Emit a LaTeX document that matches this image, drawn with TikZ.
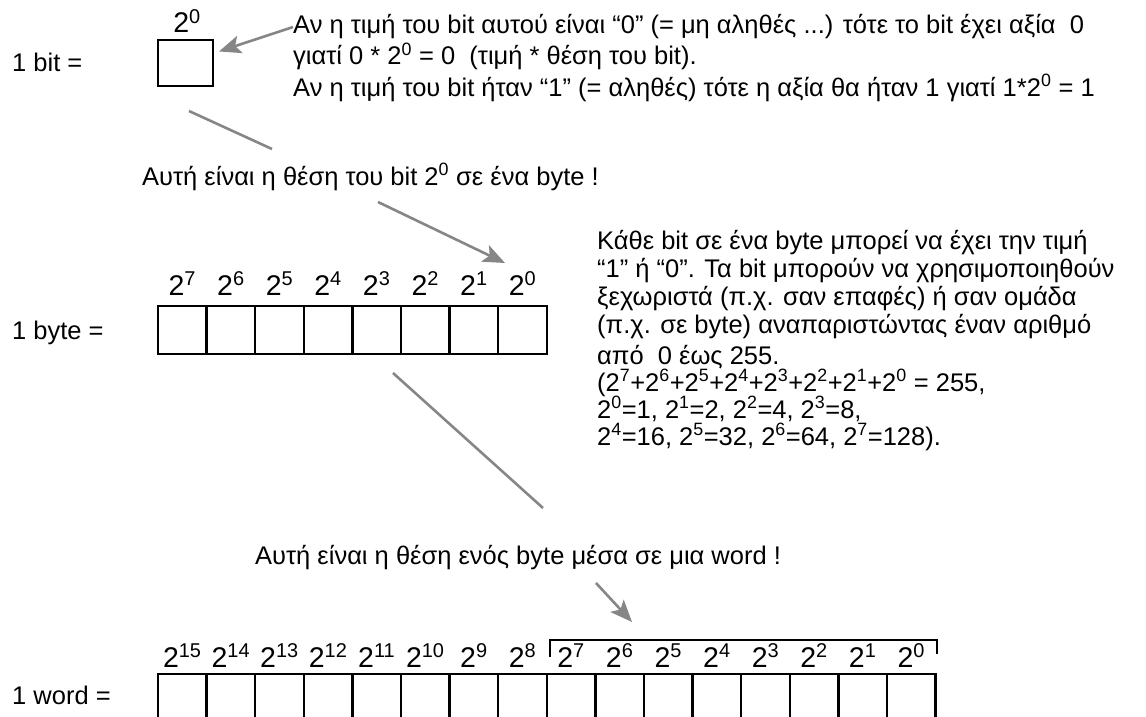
\documentclass[tikz,border=0pt]{standalone}
\usepackage{fontspec}
\setmainfont{Liberation Sans}
\usetikzlibrary{arrows.meta}
\definecolor{ptrgray}{HTML}{868686}
\newcommand{\pw}[1]{2\textsuperscript{#1}}

\begin{document}
\begin{tikzpicture}[x=1pt,y=-1pt,
  every node/.style={anchor=base west,font=\fontsize{25.5}{30}\selectfont,inner sep=0pt},
  cell/.style={anchor=center,draw=black,line width=2.4pt,minimum width=48.6pt,minimum height=48pt},
  expo/.style={anchor=base,font=\fontsize{28.5}{30}\selectfont},
  ptr/.style={draw=ptrgray,line width=2.6pt,-{Stealth[length=22pt,width=18pt,inset=5pt]}},
  ptrline/.style={draw=ptrgray,line width=2.6pt},
  bracketline/.style={draw=black,line width=2.2pt}]
\useasboundingbox (0,0) rectangle (1146,717);
\clip (0,0) rectangle (1146,717);
\node (bitlbl) at (12,72) {1 bit =};
\node[cell,minimum width=55pt,minimum height=46pt] (bitbox) at (185.5,63) {};
\node[expo] (bitexp) at (187,33) {\pw{0}};
\node (note1) at (293,34) {Αν η τιμή του bit αυτού είναι “0” (= μη αληθές ...) τότε το bit έχει αξία~ 0};
\node (note2) at (293,65) {γιατί 0 * \pw{0} = 0~ (τιμή * θέση του bit).};
\node (note3) at (293,96) {Αν η τιμή του bit ήταν “1” (= αληθές) τότε η αξία θα ήταν 1 γιατί 1*\pw{0} = 1};
\node (posbit) at (142,185) {Αυτή είναι η θέση του bit \pw{0} σε ένα byte !};
\node (bytelbl) at (12,339) {1 byte =};
\foreach \i in {0,...,7}{
  \pgfmathtruncatemacro\e{7-\i}
  \node[cell] (bc\e) at ({182.3+48.6*\i},330) {};
  \node[expo] (be\e) at ({182.3+48.6*\i},295) {\pw{\e}};
}
\node (desc1) at (597,249) {Κάθε bit σε ένα byte μπορεί να έχει την τιμή};
\node (desc2) at (597,277) {“1” ή “0”. Τα bit μπορούν να χρησιμοποιηθούν};
\node (desc3) at (597,305) {ξεχωριστά (π.χ. σαν επαφές) ή σαν ομάδα};
\node (desc4) at (597,333) {(π.χ. σε byte) αναπαριστώντας έναν αριθμό};
\node (desc5) at (597,364) {από~ 0 έως 255.};
\node (desc6) at (597,391) {(\pw{7}+\pw{6}+\pw{5}+\pw{4}+\pw{3}+\pw{2}+\pw{1}+\pw{0} = 255,};
\node (desc7) at (597,418) {\pw{0}=1, \pw{1}=2, \pw{2}=4, \pw{3}=8,};
\node (desc8) at (597,445) {\pw{4}=16, \pw{5}=32, \pw{6}=64, \pw{7}=128).};
\node (posbyte) at (255,564) {Αυτή είναι η θέση ενός byte μέσα σε μια word !};
\node (wordlbl) at (12,704) {1 word =};
\foreach \i in {0,...,15}{
  \pgfmathtruncatemacro\e{15-\i}
  \node[cell,minimum height=52pt] (wc\e) at ({182.3+48.6*\i},700) {};
  \node[expo] (we\e) at ({182.3+48.6*\i},667) {\pw{\e}};
}
\coordinate (l0) at (189,111);
\coordinate (l1) at (272,149);
\coordinate (a0) at (378,202);
\coordinate (a1) at (505,263);
\coordinate (l2) at (393,373);
\coordinate (l3) at (543,508);
\coordinate (a2) at (596,583);
\coordinate (a3) at (632,622);
\draw[ptr,shorten >=5pt] (note1.west) -- ([yshift=10pt]bitbox.east);
\draw[ptrline] (l0) -- (l1);
\draw[ptr] (a0) -- (a1);
\draw[ptrline] (l2) -- (l3);
\draw[ptr] (a2) -- (a3);
\draw[bracketline] ([xshift=4pt,yshift=16pt]wc7.north west) -- ++(0,-17) -| ([yshift=19pt]wc0.north east);
\end{tikzpicture}
\end{document}
